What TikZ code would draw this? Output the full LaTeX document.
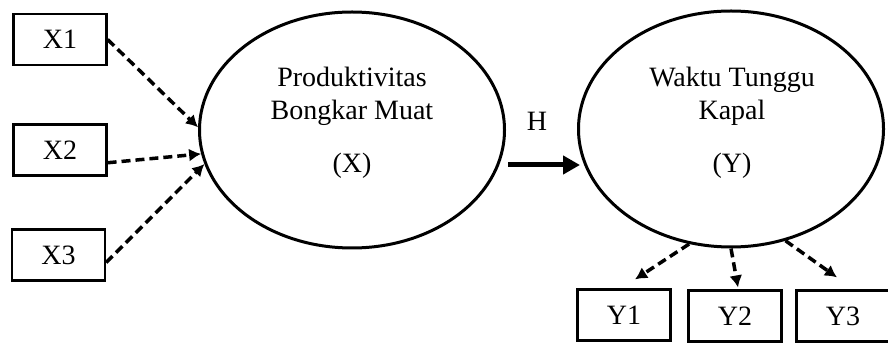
\documentclass[tikz,border=0pt]{standalone}
\usepackage{fontspec}
\setmainfont{Liberation Serif}
\usetikzlibrary{arrows.meta,shapes.geometric,calc}
\begin{document}
\begin{tikzpicture}[x=1pt,y=-1pt,
  box/.style={draw, line width=2.2pt, minimum width=93pt, minimum height=51pt, inner sep=0pt, font=\fontsize{28}{33}\selectfont},
  latent/.style={draw, ellipse, line width=3pt, inner sep=0pt, minimum width=305pt, minimum height=236pt},
  lbl/.style={align=center, inner sep=0pt, font=\fontsize{28}{33}\selectfont},
  dasharrow/.style={line width=3.5pt, dash pattern=on 9pt off 5pt, -{Latex[length=12pt,width=13pt]}},
  mainarrow/.style={line width=5pt, -{Triangle[length=17pt,width=18pt]}}
]
\useasboundingbox (0,0) rectangle (888,344);
% indicator boxes
\node[box] (X1) at (60,39.5) {X1};
\node[box] (X2) at (60,150) {X2};
\node[box] (X3) at (58.5,255) {X3};
\node[box] (Y1) at (624,315) {Y1};
\node[box] (Y2) at (735,316) {Y2};
\node[box] (Y3) at (843,316) {Y3};
% latent variables
\node[latent] (X) at (352,130) {};
\node[latent] (Y) at (731,129) {};
\node[lbl] (Xt) at (352,122.4) {Produktivitas\\Bongkar Muat\\[20pt](X)};
\node[lbl] (Yt) at (732,122.4) {Waktu Tunggu\\Kapal\\[20pt](Y)};
\node[lbl] (H) at (537,121) {H};
% connectors
\draw[dasharrow] (X1.east) -- (X.179);
\draw[dasharrow] (X2.-15) -- (X.189);
\draw[dasharrow] (X3.-9) -- (X.193);
\draw[dasharrow] (Y.250) -- ($(Y1.north)+(11,-9)$);
\draw[dasharrow] (Y.south) -- ($(Y2.north)+(3,-2)$);
\draw[dasharrow] (Y.296) -- ($(Y3.north)+(-6,-12)$);
\draw[mainarrow] ($(X.east)+(2,35)$) -- ($(Y.west)+(3,36)$);
\end{tikzpicture}
\end{document}
